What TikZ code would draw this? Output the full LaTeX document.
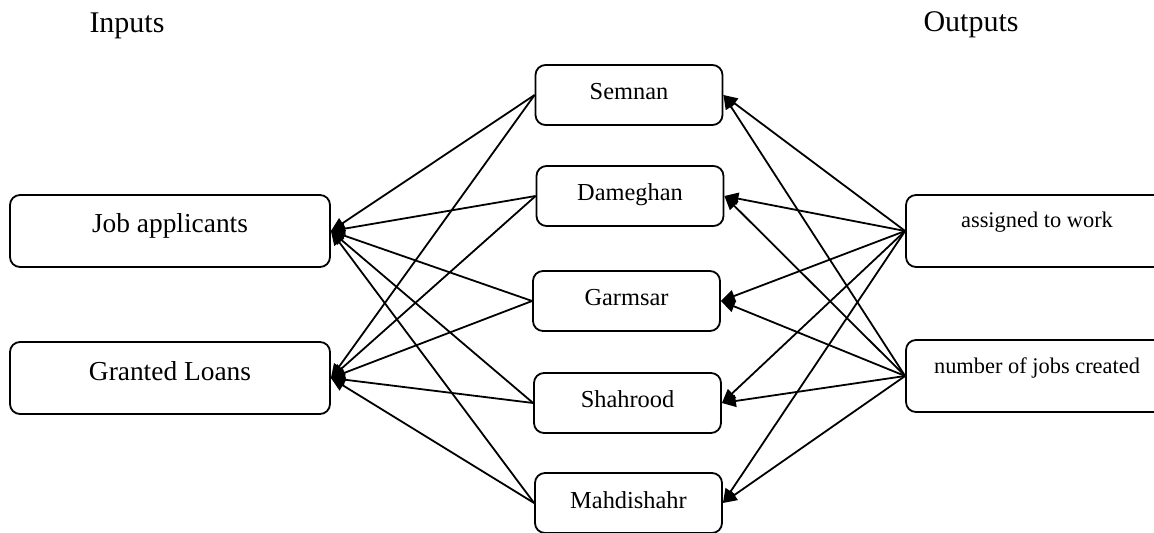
\documentclass[tikz,border=0pt]{standalone}
\usepackage{fontspec}
\setmainfont{Liberation Serif}
\usetikzlibrary{arrows.meta}

\begin{document}
\begin{tikzpicture}[x=0.5pt, y=-0.5pt, line width=0.9pt,
    box/.style={draw, rounded corners=5pt, inner ysep=0pt, anchor=base},
    inbox/.style={box, minimum width=160pt, text height=19pt, text depth=17pt,
        font=\fontsize{13.7}{16}\selectfont},
    midbox/.style={box, minimum width=93.5pt, text height=17.5pt, text depth=12.5pt,
        font=\fontsize{12.2}{14}\selectfont},
    outbox/.style={box, minimum width=131pt, text height=16.5pt, text depth=19.5pt,
        font=\fontsize{11.2}{13}\selectfont},
    arr/.style={-{Triangle[length=7pt, width=6pt]}}]

\useasboundingbox (0,0) rectangle (1154,533);

% headings
\node[anchor=base, font=\fontsize{15}{18}\selectfont] (inputs) at (127,33) {Inputs};
\node[anchor=base, font=\fontsize{15}{18}\selectfont] (outputs) at (971,32) {Outputs};

% inputs
\node[inbox] (job) at (170,233) {Job applicants};
\node[inbox] (loan) at (170,380) {Granted Loans};

% cities
\node[midbox] (semnan) at (629,100) {Semnan};
\node[midbox] (dameghan) at (630,201) {Dameghan};
\node[midbox] (garmsar) at (626.5,306) {Garmsar};
\node[midbox] (shahrood) at (627.5,408) {Shahrood};
\node[midbox] (mahdi) at (628.5,508) {Mahdishahr};

% outputs
\node[outbox] (assigned) at (1037,228) {assigned to work};
\node[outbox] (created) at (1037,373) {number of jobs created};

\foreach \c in {semnan, dameghan, garmsar, shahrood, mahdi} {
    \draw[arr] (\c.west) -- (job.east);
    \draw[arr] (\c.west) -- (loan.east);
    \draw[arr] (assigned.west) -- (\c.east);
    \draw[arr] (created.west) -- (\c.east);
}

\end{tikzpicture}
\end{document}
